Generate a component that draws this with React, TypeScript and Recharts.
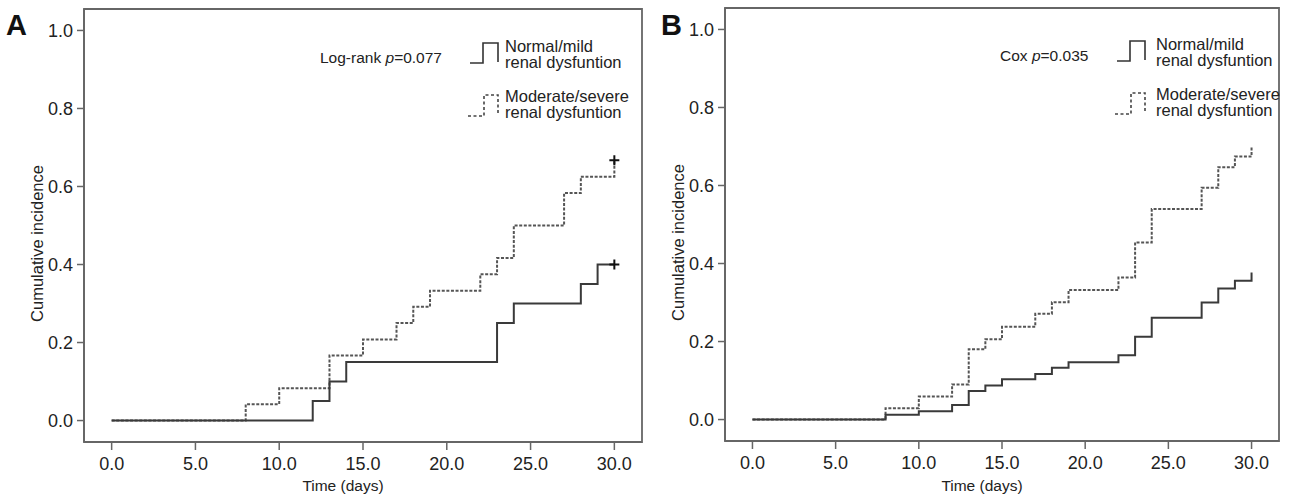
import React from 'react';
import { ComposedChart, Line, Scatter, XAxis, YAxis, Legend, Label, ReferenceArea } from 'recharts';

type Pt = { t: number; v: number };

// Panel A: observed cumulative incidence (step curves)
const normalA: Pt[] = [
  { t: 0, v: 0 }, { t: 12, v: 0.05 }, { t: 13, v: 0.1 }, { t: 14, v: 0.15 },
  { t: 23, v: 0.25 }, { t: 24, v: 0.3 }, { t: 28, v: 0.35 }, { t: 29, v: 0.4 }, { t: 30, v: 0.4 },
];
const severeA: Pt[] = [
  { t: 0, v: 0 }, { t: 8, v: 0.042 }, { t: 10, v: 0.083 }, { t: 13, v: 0.167 }, { t: 15, v: 0.208 },
  { t: 17, v: 0.25 }, { t: 18, v: 0.292 }, { t: 19, v: 0.333 }, { t: 22, v: 0.375 }, { t: 23, v: 0.417 },
  { t: 24, v: 0.5 }, { t: 27, v: 0.583 }, { t: 28, v: 0.625 }, { t: 30, v: 0.667 },
];
const censoredA: Pt[] = [{ t: 30, v: 0.667 }, { t: 30, v: 0.4 }];

// Panel B: Cox-adjusted curves
const normalB: Pt[] = [
  { t: 0, v: 0 }, { t: 8, v: 0.012 }, { t: 10, v: 0.021 }, { t: 12, v: 0.037 }, { t: 13, v: 0.073 },
  { t: 14, v: 0.087 }, { t: 15, v: 0.103 }, { t: 17, v: 0.117 }, { t: 18, v: 0.133 }, { t: 19, v: 0.147 },
  { t: 22, v: 0.165 }, { t: 23, v: 0.212 }, { t: 24, v: 0.261 }, { t: 27, v: 0.3 }, { t: 28, v: 0.336 },
  { t: 29, v: 0.356 }, { t: 30, v: 0.377 },
];
const severeB: Pt[] = [
  { t: 0, v: 0 }, { t: 8, v: 0.029 }, { t: 10, v: 0.059 }, { t: 12, v: 0.09 }, { t: 13, v: 0.18 },
  { t: 14, v: 0.206 }, { t: 15, v: 0.238 }, { t: 17, v: 0.271 }, { t: 18, v: 0.301 }, { t: 19, v: 0.332 },
  { t: 22, v: 0.364 }, { t: 23, v: 0.454 }, { t: 24, v: 0.54 }, { t: 27, v: 0.594 }, { t: 28, v: 0.647 },
  { t: 29, v: 0.674 }, { t: 30, v: 0.698 },
];
const censoredB: Pt[] = [];

const xTicks = [0, 5, 10, 15, 20, 25, 30];
const yTicks = [0, 0.2, 0.4, 0.6, 0.8, 1.0];
const groupNames = ['Normal/mild', 'Moderate/severe'];
const groupSub = 'renal dysfuntion';

const FONT = '"Liberation Sans", Arial, Helvetica, sans-serif';
const X_DOMAIN: [number, number] = [-1.65, 31.65];
const Y_DOMAIN: [number, number] = [-0.055, 1.055];
const FRAME = '#666';
const INK = '#222';

type KeyPos = {
  letterX: number; statX: number; statY: number; symX: number; textX: number; dy: number;
};

function PanelKey({ letter, test, pval, k }: { letter: string; test: string; pval: string; k: KeyPos }) {
  const d = k.dy;
  const s = k.symX;
  return (
    <svg width={646} height={130} style={{ display: 'block', fontFamily: FONT }}>
      <text x={k.letterX} y={35} fontSize={29} fontWeight="bold" fill="#111">{letter}</text>
      <text x={k.statX} y={k.statY} fontSize={15.5} fill={INK}>
        {test} <tspan fontStyle="italic">p</tspan>={pval}
      </text>
      <path d={`M${s},${63 + d}H${s + 13}V${43 + d}H${s + 28}V${62 + d}`} fill="none" stroke="#333" strokeWidth={1.6} />
      <text x={k.textX} y={52 + d} fontSize={16.5} fill={INK}>{groupNames[0]}</text>
      <text x={k.textX} y={68 + d} fontSize={16.5} fill={INK}>{groupSub}</text>
      <path d={`M${s - 2},${116 + d}H${s + 14}V${95 + d}H${s + 28}V${114 + d}`} fill="none" stroke="#444" strokeWidth={1.6} strokeDasharray="3 2.5" />
      <text x={k.textX} y={102 + d} fontSize={16.5} fill={INK}>{groupNames[1]}</text>
      <text x={k.textX} y={118 + d} fontSize={16.5} fill={INK}>{groupSub}</text>
    </svg>
  );
}

const Plus = (props: any) => {
  const { cx, cy } = props;
  return <path d={`M${cx - 5},${cy}H${cx + 5}M${cx},${cy - 5}V${cy + 5}`} stroke="#111" strokeWidth={2} />;
};

type PanelProps = {
  left: number;
  letter: string;
  test: string;
  pval: string;
  normal: Pt[];
  severe: Pt[];
  censored: Pt[];
  yAxisWidth: number;
  margin: { top: number; right: number; left: number; bottom: number };
  xAxisHeight: number;
  k: KeyPos;
};

function Panel(p: PanelProps) {
  return (
    <div style={{ position: 'absolute', left: p.left, top: 0 }}>
      <ComposedChart width={646} height={499} margin={p.margin}>
        <XAxis
          dataKey="t" type="number" domain={X_DOMAIN} ticks={xTicks} allowDataOverflow
          tickFormatter={(v: number) => v.toFixed(1)} height={p.xAxisHeight}
          tick={{ fill: INK, fontSize: 18, fontFamily: FONT }} tickSize={8} tickMargin={7}
          axisLine={{ stroke: FRAME, strokeWidth: 1.8 }} tickLine={{ stroke: FRAME, strokeWidth: 1.5 }}
        >
          <Label
            content={(lp: any) => {
              const vb = lp.viewBox;
              return (
                <text x={vb.x + vb.width / 2 - 20} y={491} textAnchor="middle" fontSize={15.5} fontFamily={FONT} fill={INK}>
                  Time (days)
                </text>
              );
            }}
          />
        </XAxis>
        <YAxis
          type="number" domain={Y_DOMAIN} ticks={yTicks} allowDataOverflow width={p.yAxisWidth}
          tickFormatter={(v: number) => v.toFixed(1)}
          tick={{ fill: INK, fontSize: 18, fontFamily: FONT }} tickSize={7} tickMargin={4}
          axisLine={{ stroke: FRAME, strokeWidth: 1.8 }} tickLine={{ stroke: FRAME, strokeWidth: 1.5 }}
        >
          <Label
            content={(lp: any) => {
              const vb = lp.viewBox;
              const cx = vb.x + vb.width - 41;
              const cy = vb.y + vb.height / 2 + 18;
              return (
                <text x={cx} y={cy} transform={`rotate(-90 ${cx} ${cy})`} textAnchor="middle" fontSize={16.5} fontFamily={FONT} fill={INK}>
                  Cumulative incidence
                </text>
              );
            }}
          />
        </YAxis>
        {/* plot frame */}
        <ReferenceArea x1={X_DOMAIN[0]} x2={X_DOMAIN[1]} y1={Y_DOMAIN[0]} y2={Y_DOMAIN[1]}
          fill="none" fillOpacity={0} stroke={FRAME} strokeWidth={1.8} ifOverflow="visible" />
        <Legend
          layout="horizontal" verticalAlign="middle" align="center"
          wrapperStyle={{ left: 0, top: 0, width: 646, height: 130 }}
          content={() => <PanelKey letter={p.letter} test={p.test} pval={p.pval} k={p.k} />}
        />
        <Line data={p.severe} dataKey="v" name={groupNames[1]} type="stepAfter" stroke="#555"
          strokeWidth={2} strokeDasharray="3 1.6" dot={false} activeDot={false} isAnimationActive={false} />
        <Line data={p.normal} dataKey="v" name={groupNames[0]} type="stepAfter" stroke="#3a3a3a"
          strokeWidth={2} dot={false} activeDot={false} isAnimationActive={false} />
        <Scatter data={p.censored} dataKey="v" shape={Plus} isAnimationActive={false} legendType="none" />
      </ComposedChart>
    </div>
  );
}

export default function App() {
  return (
    <div style={{ position: 'absolute', left: 0, top: 0, width: 1292, height: 499, background: '#fff' }}>
      <Panel
        left={0} letter="A" test="Log-rank" pval="0.077"
        normal={normalA} severe={severeA} censored={censoredA}
        yAxisWidth={84} margin={{ top: 9, right: 4, left: 0, bottom: 0 }} xAxisHeight={57}
        k={{ letterX: 6, statX: 320, statY: 63, symX: 470, textX: 505, dy: 0 }}
      />
      <Panel
        left={646} letter="B" test="Cox" pval="0.035"
        normal={normalB} severe={severeB} censored={censoredB}
        yAxisWidth={79} margin={{ top: 8, right: 13, left: 0, bottom: 0 }} xAxisHeight={58}
        k={{ letterX: 15, statX: 354, statY: 61, symX: 471, textX: 510, dy: -2 }}
      />
    </div>
  );
}
